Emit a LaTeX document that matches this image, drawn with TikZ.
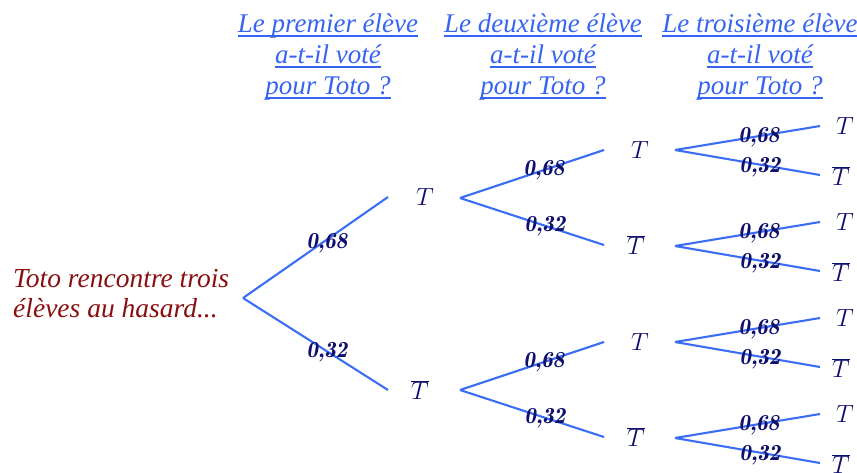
\documentclass[tikz,border=0pt]{standalone}
\usepackage{fontspec}
\setmainfont{Liberation Serif}
\definecolor{lineblue}{RGB}{60,110,245}
\definecolor{headblue}{RGB}{55,100,240}
\definecolor{navy}{RGB}{15,15,110}
\definecolor{darkred}{RGB}{135,15,15}
\newcommand\lmital{\fontfamily{lmr}\bfseries\itshape}
\newcommand\hul[1]{\setbox0=\hbox{#1}\rlap{\rule[-4.5pt]{\wd0}{1.7pt}}\box0}
\tikzset{
  branch/.style={draw=lineblue, line width=2.1pt},
  evt/.style={text=navy, inner sep=0pt, font=\fontsize{27}{30}\selectfont},
  prob/.style={text=navy, inner sep=0pt, font=\fontsize{23}{26}\selectfont\lmital},
  header/.style={text=headblue, align=center, inner sep=0pt, font=\fontsize{27}{31}\selectfont\itshape},
}
\begin{document}
\begin{tikzpicture}[x=1pt,y=-1pt]
\useasboundingbox (0,0) rectangle (857,472);
% headers
\node[header] (h1) at (328,57) {\hul{Le premier élève}\\\hul{a-t-il voté}\\\hul{pour Toto ?}};
\node[header] (h2) at (543,57) {\hul{Le deuxième élève}\\\hul{a-t-il voté}\\\hul{pour Toto ?}};
\node[header] (h3) at (760,57) {\hul{Le troisième élève}\\\hul{a-t-il voté}\\\hul{pour Toto ?}};
% root
\node[text=darkred, anchor=west, align=left, inner sep=0pt, font=\fontsize{27.5}{30}\selectfont\itshape] (root) at (13,294) {Toto rencontre trois\\élèves au hasard...};
% level 1
\coordinate (r) at (243,298);
\coordinate (a1) at (388,197);
\coordinate (a2) at (388,390);
\node[evt] (A) at (425,197) {$T$};
\node[evt] (Ab) at (420,390) {$\overline{T}$};
\draw[branch] (r) -- (a1);
\draw[branch] (r) -- (a2);
\node[prob] (p1) at (327,243) {0,68};
\node[prob] (p2) at (327,352) {0,32};
% level 2
\foreach \n/\y in {1/198, 2/390}{
  \coordinate (s\n) at (460,\y);
  \coordinate (e\n u) at (604,\y-48);
  \coordinate (e\n d) at (604,\y+47);
  \draw[branch] (s\n) -- (e\n u);
  \draw[branch] (s\n) -- (e\n d);
  \node[prob] (q\n u) at (544,\y-28) {0,68};
  \node[prob] (q\n d) at (545,\y+28) {0,32};
  \node[evt] (B\n) at (640,\y-48) {$T$};
  \node[evt] (Bb\n) at (636,\y+47) {$\overline{T}$};
}
% level 3
\foreach \n/\y in {1/150, 2/246, 3/342, 4/438}{
  \coordinate (t\n) at (675,\y);
  \coordinate (f\n u) at (820,\y-24);
  \coordinate (f\n d) at (820,\y+25);
  \draw[branch] (t\n) -- (f\n u);
  \draw[branch] (t\n) -- (f\n d);
  \node[prob] (g\n u) at (759,\y-13) {0,68};
  \node[prob] (g\n d) at (760,\y+17) {0,32};
  \node[evt] (C\n) at (845,\y-24) {$T$};
  \node[evt] (Cb\n) at (841,\y+26) {$\overline{T}$};
}
\end{tikzpicture}
\end{document}
